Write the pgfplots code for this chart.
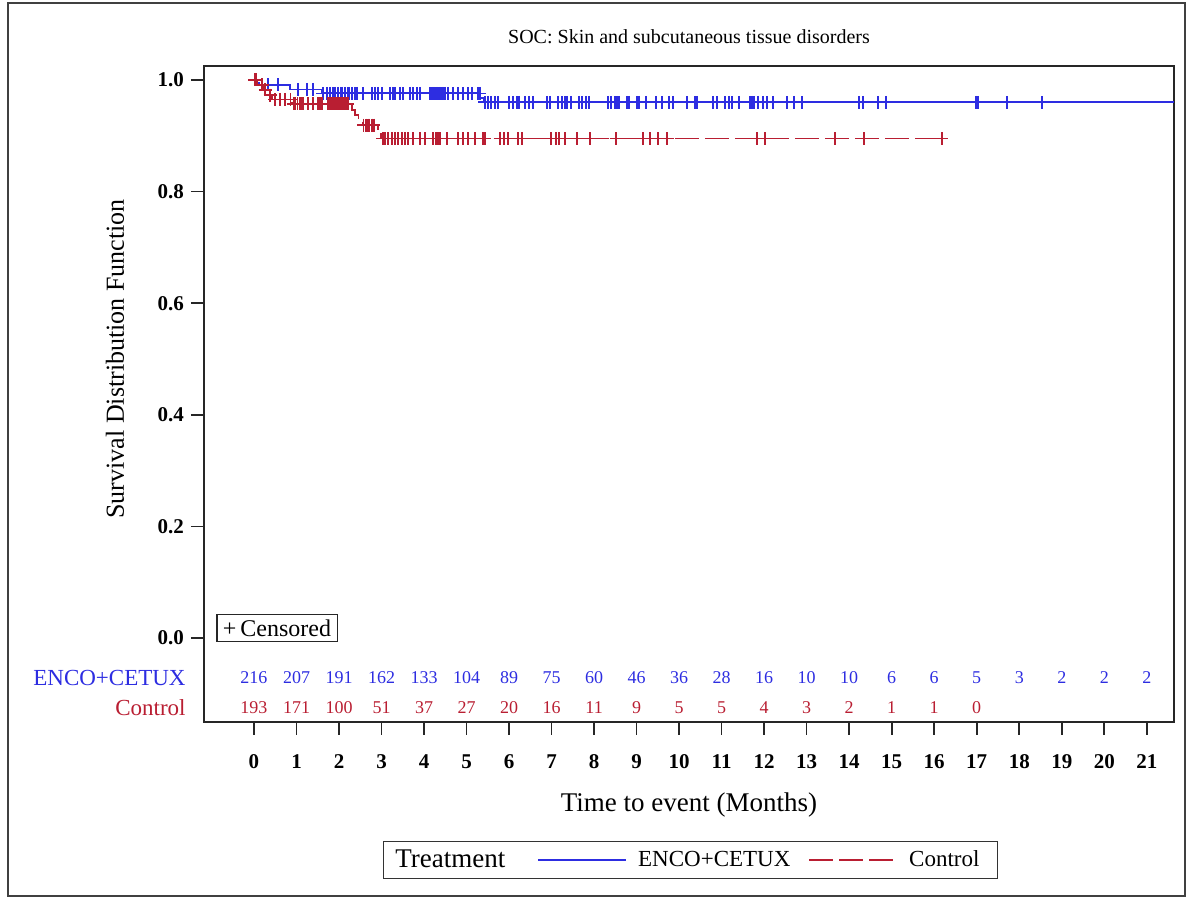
\documentclass[border=0pt]{standalone}
\usepackage{fontspec}
\setmainfont{Liberation Serif}
\usepackage{pgfplots}
\pgfplotsset{compat=1.18}
\definecolor{kmblue}{RGB}{45,45,225}
\definecolor{kmred}{RGB}{185,30,50}

\begin{document}
\begin{tikzpicture}[x=1pt,y=1pt]
\useasboundingbox (-102,-87.5) rectangle (492,361);
\draw[black!75, line width=1pt] (-98,-87) rectangle (490.5,359.5);
\begin{axis}[
  at={(0,0)}, anchor=south west,
  scale only axis, width=485pt, height=328pt,
  xmin=-1.176, xmax=21.64, ymin=-0.1505, ymax=1.025,
  clip mode=individual,
  axis line style={black!85, line width=0.8pt},
  tick pos=left, tick align=outside,
  major tick style={black!85, line width=0.8pt},
  major tick length=6.5pt,
  xtick={0,...,21}, ytick={0,0.2,0.4,0.6,0.8,1},
  yticklabel style={/pgf/number format/.cd, fixed, fixed zerofill, precision=1},
  xticklabel style={text height=7.5pt, text depth=0pt, yshift=-5.5pt},
  /pgf/number format/assume math mode=true,
  tick label style={font=\fontsize{10.5}{12}\selectfont\bfseries},
  xlabel={Time to event (Months)},
  xlabel style={at={(axis description cs:0.5,-0.1265)}, anchor=center, font=\fontsize{13.5}{16}\selectfont},
  ylabel={Survival Distribution Function},
  ylabel style={at={(axis description cs:-0.0918,0.5534)}, anchor=center, font=\fontsize{13}{15}\selectfont},
  title={SOC: Skin and subcutaneous tissue disorders},
  title style={at={(axis description cs:0.5,1)}, anchor=center, yshift=8.5pt, font=\fontsize{10}{12}\selectfont},
  legend style={at={(axis description cs:0.5015,-0.2104)}, anchor=center, legend columns=-1,
    draw=black!80, line width=0.6pt, font=\fontsize{11.5}{13}\selectfont,
    inner xsep=4pt, inner ysep=2pt},
  legend image code/.code={\draw[#1] (0pt,0pt) -- (44pt,0pt); \path (47.5pt,0pt);},
]
\addlegendimage{empty legend}
\addlegendentry{\fontsize{13.5}{16}\selectfont Treatment\hspace*{14pt}}

% KM curve ENCO+CETUX
\addplot[kmblue, line width=0.9pt, const plot, mark=none] table {
t s
0 1.000
0.05 0.995
0.12 0.991
0.85 0.983
1.60 0.976
5.33 0.967
5.40 0.960
21.64 0.960
};
\addlegendentry{ENCO+CETUX\hspace*{7pt}}

% KM curve Control
\addplot[kmred, line width=0.9pt, const plot, mark=none, dash pattern=on 12pt off 3pt] table {
t s
0 1.000
0.08 0.991
0.22 0.982
0.30 0.973
0.42 0.965
0.90 0.957
2.30 0.946
2.38 0.937
2.46 0.928
2.55 0.919
2.92 0.907
2.99 0.895
16.18 0.895
};
\addlegendentry{Control\hspace*{3pt}}

% censored ENCO+CETUX
\addplot[kmblue, only marks, mark=+, mark size=3.25pt, line width=0.8pt, forget plot] table {
t s
0.18 0.991
0.33 0.991
0.56 0.991
1.04 0.983
1.24 0.983
1.39 0.983
1.62 0.976
1.72 0.976
1.79 0.976
1.86 0.976
1.91 0.976
1.98 0.976
2.03 0.976
2.07 0.976
2.14 0.976
2.21 0.976
2.25 0.976
2.31 0.976
2.38 0.976
2.42 0.976
2.56 0.976
2.78 0.976
2.85 0.976
2.92 0.976
3.01 0.976
3.20 0.976
3.27 0.976
3.32 0.976
3.43 0.976
3.51 0.976
3.67 0.976
3.74 0.976
3.83 0.976
3.90 0.976
4.14 0.976
4.18 0.976
4.21 0.976
4.25 0.976
4.28 0.976
4.32 0.976
4.35 0.976
4.39 0.976
4.42 0.976
4.45 0.976
4.49 0.976
4.56 0.976
4.68 0.976
4.80 0.976
4.92 0.976
5.03 0.976
5.13 0.976
5.27 0.976
5.31 0.976
5.43 0.960
5.50 0.960
5.58 0.960
5.67 0.960
5.74 0.960
6.00 0.960
6.09 0.960
6.19 0.960
6.23 0.960
6.37 0.960
6.47 0.960
6.56 0.960
6.89 0.960
6.96 0.960
7.15 0.960
7.25 0.960
7.32 0.960
7.36 0.960
7.46 0.960
7.65 0.960
7.72 0.960
7.81 0.960
7.88 0.960
8.33 0.960
8.40 0.960
8.49 0.960
8.54 0.960
8.59 0.960
8.77 0.960
8.82 0.960
9.01 0.960
9.06 0.960
9.22 0.960
9.46 0.960
9.60 0.960
9.76 0.960
9.86 0.960
10.19 0.960
10.37 0.960
10.42 0.960
10.80 0.960
10.89 0.960
11.08 0.960
11.17 0.960
11.24 0.960
11.41 0.960
11.67 0.960
11.71 0.960
11.76 0.960
11.86 0.960
11.97 0.960
12.07 0.960
12.21 0.960
12.54 0.960
12.70 0.960
12.89 0.960
14.23 0.960
14.32 0.960
14.68 0.960
14.87 0.960
16.98 0.960
17.03 0.960
17.71 0.960
18.54 0.960
};

% censored Control
\addplot[kmred, only marks, mark=+, mark size=3.25pt, line width=0.8pt, forget plot] table {
t s
0.02 1.000
0.06 1.000
0.19 0.991
0.26 0.982
0.38 0.973
0.49 0.965
0.61 0.965
0.73 0.965
0.86 0.965
0.94 0.957
0.97 0.957
1.02 0.957
1.08 0.957
1.12 0.957
1.15 0.957
1.27 0.957
1.39 0.957
1.51 0.957
1.55 0.957
1.60 0.957
1.74 0.957
1.79 0.957
1.83 0.957
1.88 0.957
1.93 0.957
1.98 0.957
2.02 0.957
2.07 0.957
2.12 0.957
2.16 0.957
2.21 0.957
2.58 0.919
2.63 0.919
2.68 0.919
2.72 0.919
2.77 0.919
2.82 0.919
3.03 0.895
3.08 0.895
3.15 0.895
3.24 0.895
3.31 0.895
3.39 0.895
3.48 0.895
3.55 0.895
3.62 0.895
3.74 0.895
3.90 0.895
4.02 0.895
4.21 0.895
4.28 0.895
4.33 0.895
4.38 0.895
4.54 0.895
4.80 0.895
4.92 0.895
5.03 0.895
5.20 0.895
5.39 0.895
5.43 0.895
5.79 0.895
5.88 0.895
5.98 0.895
6.21 0.895
6.30 0.895
6.99 0.895
7.10 0.895
7.17 0.895
7.32 0.895
7.60 0.895
7.90 0.895
8.52 0.895
9.15 0.895
9.32 0.895
9.50 0.895
9.72 0.895
11.83 0.895
12.02 0.895
13.67 0.895
14.35 0.895
16.18 0.895
};

% numbers at risk
\addplot[only marks, mark=none, forget plot, nodes near coords, point meta=explicit symbolic,
  nodes near coords style={anchor=center, inner sep=0pt, font=\fontsize{9}{10}\selectfont, text=kmblue}]
  table[meta=n] {
t y n
0 -0.0717 216
1 -0.0717 207
2 -0.0717 191
3 -0.0717 162
4 -0.0717 133
5 -0.0717 104
6 -0.0717 89
7 -0.0717 75
8 -0.0717 60
9 -0.0717 46
10 -0.0717 36
11 -0.0717 28
12 -0.0717 16
13 -0.0717 10
14 -0.0717 10
15 -0.0717 6
16 -0.0717 6
17 -0.0717 5
18 -0.0717 3
19 -0.0717 2
20 -0.0717 2
21 -0.0717 2
};
\addplot[only marks, mark=none, forget plot, nodes near coords, point meta=explicit symbolic,
  nodes near coords style={anchor=center, inner sep=0pt, font=\fontsize{9}{10}\selectfont, text=kmred}]
  table[meta=n] {
t y n
0 -0.1254 193
1 -0.1254 171
2 -0.1254 100
3 -0.1254 51
4 -0.1254 37
5 -0.1254 27
6 -0.1254 20
7 -0.1254 16
8 -0.1254 11
9 -0.1254 9
10 -0.1254 5
11 -0.1254 5
12 -0.1254 4
13 -0.1254 3
14 -0.1254 2
15 -0.1254 1
16 -0.1254 1
17 -0.1254 0
};

\node[anchor=east, inner sep=0pt, xshift=-9pt, text=kmblue, font=\fontsize{11.5}{13}\selectfont] at (axis cs:-1.176,-0.0717) {ENCO+CETUX};
\node[anchor=east, inner sep=0pt, xshift=-9pt, text=kmred, font=\fontsize{11.5}{13}\selectfont] at (axis cs:-1.176,-0.1254) {Control};
\node[draw=black!85, line width=0.6pt, inner xsep=3pt, inner ysep=2.5pt, font=\fontsize{12}{14}\selectfont] at (axis description cs:0.0753,0.1433) {+\,Censored};
\end{axis}
\end{tikzpicture}
\end{document}
